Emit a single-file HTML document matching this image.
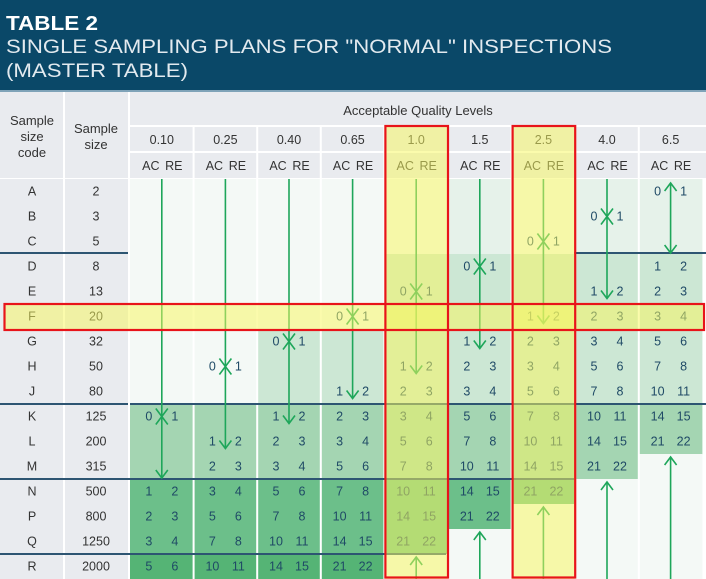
<!DOCTYPE html>
<html><head><meta charset="utf-8"><style>
html,body{margin:0;padding:0;background:#fff;width:706px;height:579px;overflow:hidden}
svg{display:block;font-family:"Liberation Sans",sans-serif}
</style></head><body>
<svg id="chart" width="706" height="579" viewBox="0 0 706 579" xmlns="http://www.w3.org/2000/svg">
<rect x="0" y="0" width="706" height="90" fill="#0a4868"/>
<rect x="0" y="90" width="706" height="2" fill="#7fa3b8"/>
<text x="6" y="30" fill="#fff" font-size="20" font-weight="bold" textLength="92" lengthAdjust="spacingAndGlyphs">TABLE 2</text>
<text x="6" y="53" fill="#e3eaef" font-size="19" textLength="606" lengthAdjust="spacingAndGlyphs">SINGLE SAMPLING PLANS FOR "NORMAL" INSPECTIONS</text>
<text x="6" y="77" fill="#e3eaef" font-size="19" textLength="182" lengthAdjust="spacingAndGlyphs">(MASTER TABLE)</text>
<g id="g"></g>
</svg>
<script>
const codes=["A","B","C","D","E","F","G","H","J","K","L","M","N","P","Q","R"];
const sizes=["2","3","5","8","13","20","32","50","80","125","200","315","500","800","1250","2000"];
const aqls=["0.10","0.25","0.40","0.65","1.0","1.5","2.5","4.0","6.5"];
const crossRows=[9,7,6,5,4,3,2,1,-1];
const arrowRows=[-1,10,9,8,7,6,5,4,-1];
const valueStart=[12,11,10,9,8,7,6,5,3];
const upRows=[16,16,16,16,15,14,13,12,11];
const fillStart=[9,9,6,6,3,0,3,0,0];
const values=[
 [[1,2],[2,3],[3,4],[5,6]],
 [[2,3],[3,4],[5,6],[7,8],[10,11]],
 [[2,3],[3,4],[5,6],[7,8],[10,11],[14,15]],
 [[2,3],[3,4],[5,6],[7,8],[10,11],[14,15],[21,22]],
 [[2,3],[3,4],[5,6],[7,8],[10,11],[14,15],[21,22]],
 [[2,3],[3,4],[5,6],[7,8],[10,11],[14,15],[21,22]],
 [[2,3],[3,4],[5,6],[7,8],[10,11],[14,15],[21,22]],
 [[2,3],[3,4],[5,6],[7,8],[10,11],[14,15],[21,22]],
 [[1,2],[2,3],[3,4],[5,6],[7,8],[10,11],[14,15],[21,22]]
];
const highlightCols=[4,6];
const highlightRow=5;

const NS="http://www.w3.org/2000/svg";
const g=document.getElementById('g');
const X0=130,CW=63.6,Y0=179,RH=25;
const colX=c=>X0+c*CW, colC=c=>X0+c*CW+CW/2;
const rowY=r=>Y0+r*RH, rowC=r=>Y0+r*RH+RH/2;
function el(t,a,p){const e=document.createElementNS(NS,t);for(const k in a)e.setAttribute(k,a[k]);(p||g).appendChild(e);return e;}
function txt(x,y,s,a){const e=el('text',Object.assign({x:x,y:y,'text-anchor':'middle','font-size':12.5,fill:'#1f4a66'},a||{}));e.textContent=s;return e;}
const grp=r=>r<3?'#e6f2ea':r<9?'#cce7d4':r<12?'#a4d5b2':r<15?'#6cbf8a':'#55b475';
const GREEN='#1ea65a';

// header backgrounds
let h=el('rect',{x:0,y:92,width:128,height:86,fill:'#e9ebef'});

el('rect',{x:0,y:179,width:128,height:400,fill:'#e9ebef'});
el('rect',{x:130,y:92,width:576,height:86,fill:'#e9ebef'});
el('rect',{x:63,y:92,width:2,height:487,fill:'#fff'});
el('rect',{x:128,y:92,width:2,height:487,fill:'#fff'});
el('rect',{x:130,y:125,width:576,height:2,fill:'#fff'});
el('rect',{x:130,y:151,width:576,height:2,fill:'#fff'});
el('rect',{x:0,y:178,width:706,height:1,fill:'#fff'});
let t;
t=txt(32,125,'Sample',{fill:'#333','font-size':13});
txt(32,141,'size',{fill:'#333','font-size':13});txt(32,157,'code',{fill:'#333','font-size':13});
t=txt(96,133,'Sample',{fill:'#333','font-size':13});
txt(96,149,'size',{fill:'#333','font-size':13});
t=txt(418,115,'Acceptable Quality Levels',{fill:'#333','font-size':13});

// cells backgrounds
for(let c=0;c<9;c++){
 for(let r=0;r<16;r++){
  const f=(r>=fillStart[c]&&r<upRows[c])?grp(r):'#f4f9f6';
  const e=el('rect',{x:colX(c),y:rowY(r),width:CW,height:RH+0.5,fill:f});
  
  
 }
 const a=txt(colC(c),144,aqls[c],{fill:'#333','font-size':12.5});
 
 
 txt(colC(c)-11,170,'AC',{fill:'#333','font-size':12.5});
 txt(colC(c)+12,170,'RE',{fill:'#333','font-size':12.5});
}
for(let c=1;c<9;c++) el('rect',{x:colX(c)-1,y:127,width:2,height:452,fill:'#fff'});

// row separators
[[253,[[0,128],[574,706]]],[404,[[0,128],[130,706]]],[479,[[0,574]]],[554,[[0,446]]]].forEach(s=>{
 s[1].forEach(seg=>el('rect',{x:seg[0],y:s[0]-1,width:seg[1]-seg[0],height:2,fill:'#2d5572'}));
});

// codes and sizes
for(let r=0;r<16;r++){
 const a=txt(32,rowC(r)+4,codes[r],{fill:'#333','font-size':12.5});
 
 
 const b=txt(96,rowC(r)+4,sizes[r],{fill:'#333','font-size':12.5});
 
 
}

function chevDown(x,y){el('polyline',{points:(x-6)+','+(y-8)+' '+x+','+y+' '+(x+6)+','+(y-8),fill:'none',stroke:GREEN,'stroke-width':1.6});}
function chevUp(x,y){el('polyline',{points:(x-6)+','+(y+8)+' '+x+','+y+' '+(x+6)+','+(y+8),fill:'none',stroke:GREEN,'stroke-width':1.6});}
function pair(c,r,v){txt(colC(c)-13,rowC(r)+4,String(v[0]));txt(colC(c)+13,rowC(r)+4,String(v[1]));}

for(let c=0;c<9;c++){
 const x=colC(c);
 if(c===8){
  // up arrow at A then down arrow to C bottom
  el('line',{x1:x,y1:rowY(0)+4,x2:x,y2:rowY(3)-1,stroke:GREEN,'stroke-width':1.6});
  chevUp(x,rowY(0)+4);chevDown(x,rowY(3)-1);
  pair(c,0,[0,1]);
 } else {
  const cr=crossRows[c],ar=arrowRows[c];
  const endY=ar>=0?rowC(ar)+7:rowY(valueStart[c])-1;
  const ln=el('line',{x1:x,y1:Y0,x2:x,y2:endY,stroke:GREEN,'stroke-width':1.6});
  
  
  chevDown(x,rowC(cr));chevUp(x,rowC(cr));
  pair(c,cr,[0,1]);
  chevDown(x,endY);
  if(ar>=0)pair(c,ar,[1,2]);
 }
 values[c].forEach((v,i)=>pair(c,valueStart[c]+i,v));
 if(upRows[c]<16){
  const y=rowY(upRows[c])+3;
  el('line',{x1:x,y1:y,x2:x,y2:579,stroke:GREEN,'stroke-width':1.6});
  chevUp(x,y);
 }
}

// yellow highlights
highlightCols.forEach(c=>{
 const e=el('rect',{x:colX(c),y:126,width:CW,height:453,fill:'#f7f760',opacity:0.52});
 
 
});
let hr=el('rect',{x:4,y:rowY(highlightRow),width:700,height:RH,fill:'#f7f760',opacity:0.52});


highlightCols.forEach(c=>{
 el('rect',{x:colX(c)+1,y:126,width:CW-1,height:451.5,fill:'none',stroke:'#e8141a','stroke-width':2.2});
});
el('rect',{x:4.5,y:rowY(highlightRow),width:699.5,height:RH+1,fill:'none',stroke:'#e8141a','stroke-width':2.2});
</script>
</body></html>
